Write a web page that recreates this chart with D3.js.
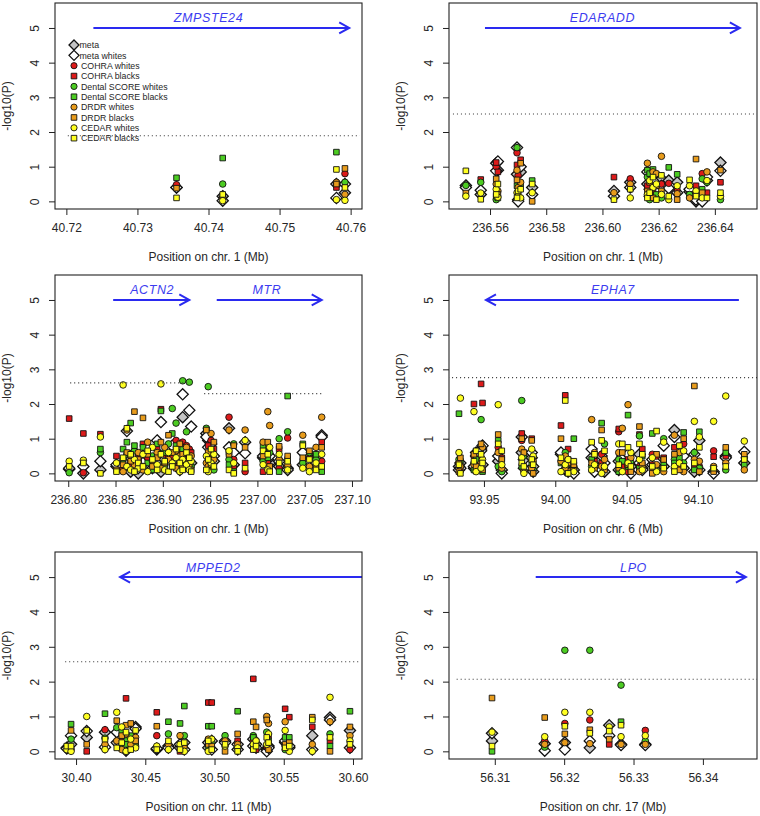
<!DOCTYPE html>
<html><head><meta charset="utf-8">
<script src="https://cdn.jsdelivr.net/npm/d3@7"></script>
<style>body{margin:0;background:#fff;} svg{display:block;font-family:"Liberation Sans",Arial,Helvetica,sans-serif;}</style>
</head><body><svg id="c" width="760" height="816"></svg>
<script>
// ---------- DATA ----------
const seriesNames = ["meta","meta whites","COHRA whites","COHRA blacks","Dental SCORE whites","Dental SCORE blacks","DRDR whites","DRDR blacks","CEDAR whites","CEDAR blacks"];
const yTicks = [0,1,2,3,4,5];
const chromosomes = ["1","1","1","6","11","17"];
const xTicks = [
  [40.72,40.73,40.74,40.75,40.76],
  [236.56,236.58,236.60,236.62,236.64],
  [236.80,236.85,236.90,236.95,237.00,237.05,237.10],
  [93.95,94.00,94.05,94.10],
  [30.40,30.45,30.50,30.55,30.60],
  [56.31,56.32,56.33,56.34]
];
// gene: [name, start, end (arrow head), label position]
const genesZMPSTE24 = [["ZMPSTE24",40.7238,40.7598,40.740]];
const genesEDARADD = [["EDARADD",236.5582,236.6489,236.600]];
const genesACTN2MTR = [["ACTN2",236.8475,236.928,236.8887],["MTR",236.957,237.068,237.0102]];
const genesEPHA7 = [["EPHA7",94.1287,93.9514,94.0404]];
const genesMPPED2 = [["MPPED2",30.63,30.4318,30.499]];
const genesLPO = [["LPO",56.3159,56.3462,56.330]];
// significance thresholds: [from, to, -log10(P)]
const thrZMPSTE24 = [[40.7202,40.7613,1.89]];
const thrEDARADD = [[236.5468,236.655,2.52]];
const thrACTN2MTR = [[236.802,236.929,2.61],[236.9437,237.0694,2.30]];
const thrEPHA7 = [[93.9248,94.1414,2.76]];
const thrMPPED2 = [[30.3921,30.605,2.57]];
const thrLPO = [[56.3045,56.3478,2.07]];
// SNP rows: [position Mb, meta, meta whites, COHRA w, COHRA b, DS w, DS b, DRDR w, DRDR b, CEDAR w, CEDAR b]
const snpsZMPSTE24 = [
[40.7355,0.40,0.40,0.48,null,null,0.68,null,0.38,null,0.10],
[40.7420,0.15,0.02,null,null,0.50,1.25,0.12,null,0.02,0.20],
[40.7580,0.50,0.10,null,0.40,null,1.42,0.55,0.50,0.05,0.92],
[40.7592,0.25,0.50,0.80,null,0.55,null,0.20,0.95,0.03,0.40]
];
const snpsEDARADD = [
[236.5514,0.46,0.40,null,null,0.46,null,null,0.24,0.15,0.88],
[236.5567,0.20,0.32,null,0.63,0.55,null,null,null,0.24,0.06],
[236.5622,1.10,0.88,1.00,1.12,0.05,0.15,0.50,0.65,0.35,0.20],
[236.5628,0.90,1.15,null,0.85,null,0.10,0.30,0.20,0.12,0.50],
[236.5696,0.78,1.55,1.40,1.05,1.55,0.45,0.90,0.62,0.25,0.10],
[236.5700,0.05,0.00,0.75,null,null,null,0.40,0.20,0.15,0.30],
[236.5709,0.85,1.00,null,1.20,null,0.50,0.55,1.10,0.10,0.35],
[236.5750,0.40,0.20,null,null,null,0.60,null,0.00,0.25,0.50],
[236.6041,0.30,0.15,null,0.70,null,null,0.25,null,null,0.05],
[236.6099,0.55,0.40,0.65,null,null,null,0.50,null,0.10,0.35],
[236.6160,0.50,0.85,null,0.45,0.70,0.90,1.10,0.30,0.20,0.10],
[236.6168,0.35,0.15,0.40,null,0.05,0.80,null,0.55,0.60,0.25],
[236.6180,0.75,0.60,null,0.25,null,0.92,0.85,0.10,0.40,0.70],
[236.6192,0.40,0.30,0.45,null,null,0.20,0.80,0.45,0.50,0.05],
[236.6210,0.65,0.45,0.50,null,0.10,null,1.30,0.30,0.20,0.75],
[236.6236,0.60,0.38,0.52,null,null,0.98,null,null,0.05,0.15],
[236.6266,0.55,0.25,null,0.35,null,0.78,0.22,0.05,0.45,null],
[236.6310,0.28,0.35,null,0.20,0.20,null,0.10,null,0.45,0.62],
[236.6333,0.00,0.05,null,0.45,null,null,null,1.22,0.30,0.15],
[236.6355,0.05,0.00,0.80,null,0.65,0.35,null,0.25,0.10,null],
[236.6372,0.60,0.70,null,0.25,0.55,null,0.85,null,0.60,0.10],
[236.6420,1.12,0.88,null,0.55,0.05,null,null,0.90,0.15,0.25]
];
const snpsACTN2MTR = [
[236.801,0.12,0.15,null,1.58,0.02,null,null,null,0.35,0.20],
[236.816,0.00,0.20,0.02,1.15,null,null,null,null,0.38,0.30],
[236.834,0.10,0.35,null,1.13,0.60,0.70,null,null,1.05,0.00],
[236.851,0.20,0.25,null,0.50,null,null,null,0.10,0.30,0.05],
[236.858,0.30,0.20,0.15,null,0.40,0.70,0.05,0.25,2.55,0.45],
[236.862,0.35,1.22,null,null,0.55,0.90,1.25,0.60,0.20,1.30],
[236.866,0.05,0.45,0.30,0.20,null,1.45,0.50,0.35,0.10,0.55],
[236.870,0.40,0.60,null,0.10,0.65,0.80,0.25,1.78,0.40,0.05],
[236.874,0.00,0.15,0.35,0.50,null,0.25,0.60,0.40,0.15,0.30],
[236.879,0.50,0.30,null,0.85,0.20,0.75,0.10,1.60,0.55,0.20],
[236.884,0.25,0.70,0.45,null,null,0.30,0.90,0.55,0.05,0.65],
[236.889,0.15,0.55,null,0.30,0.50,0.10,0.35,0.20,0.75,0.40],
[236.894,0.60,0.95,0.20,0.70,null,0.85,0.60,0.45,0.25,0.10],
[236.898,0.05,1.48,null,1.85,null,1.80,0.15,0.90,2.58,0.55],
[236.902,0.30,0.40,0.55,0.10,0.25,0.60,0.75,0.30,0.10,0.35],
[236.906,0.20,0.65,null,0.50,0.85,null,0.40,1.10,0.60,0.05],
[236.910,0.70,0.80,null,0.45,1.87,1.15,0.25,0.60,0.30,0.20],
[236.914,0.40,0.55,0.95,0.20,1.45,0.80,0.65,0.15,0.45,0.70],
[236.918,0.10,0.75,0.30,0.60,null,0.40,0.50,0.85,0.05,0.30],
[236.921,1.62,2.28,0.90,0.35,2.67,0.70,0.20,0.55,0.40,0.10],
[236.925,0.50,0.60,0.80,0.15,1.20,0.30,0.75,0.40,0.25,0.60],
[236.928,0.35,1.82,0.70,null,2.63,0.50,0.30,0.20,0.10,0.45],
[236.930,0.30,1.35,null,0.60,0.20,null,0.50,0.10,0.35,0.05],
[236.946,1.15,1.05,null,null,1.30,null,0.30,1.25,0.50,0.10],
[236.948,0.95,0.75,0.55,0.80,2.50,0.35,0.20,0.60,0.05,0.40],
[236.951,0.40,0.85,0.95,0.45,null,0.65,1.15,0.25,0.30,0.70],
[236.954,0.35,0.50,null,0.70,0.10,null,0.40,0.90,0.55,0.20],
[236.970,1.30,0.75,1.62,0.60,0.40,0.25,1.25,0.55,0.65,0.10],
[236.975,0.25,0.60,0.40,0.20,0.85,0.05,null,0.80,0.30,0.00],
[236.987,0.90,0.58,0.05,0.30,null,null,1.25,0.75,0.95,0.15],
[237.006,0.45,0.50,null,0.05,0.35,0.80,0.90,0.50,0.25,0.65],
[237.011,0.55,0.40,0.80,0.30,null,0.45,1.78,0.90,0.10,0.55],
[237.013,0.30,0.50,null,null,0.60,null,1.38,0.20,0.75,0.05],
[237.023,0.20,0.35,0.15,0.70,1.00,0.05,0.40,0.78,0.55,0.30],
[237.032,0.15,0.10,1.02,0.40,1.20,2.23,0.25,0.50,0.10,0.35],
[237.048,0.25,0.60,null,0.35,0.30,0.85,1.10,0.45,0.15,0.80],
[237.055,0.50,0.35,0.45,null,0.60,0.15,0.20,0.65,0.05,0.40],
[237.062,0.45,0.30,null,0.50,0.40,0.55,0.75,0.20,0.30,0.10],
[237.068,1.10,1.05,0.35,0.90,null,0.05,1.62,0.75,0.55,0.20]
];
const snpsEPHA7 = [
[93.9325,0.20,0.10,null,null,0.40,1.72,0.30,0.05,0.60,0.25],
[93.9335,0.30,0.15,null,0.10,null,0.35,0.20,0.45,2.17,0.00],
[93.9430,0.15,0.20,0.50,2.00,0.30,0.10,0.25,0.55,1.78,0.35],
[93.9445,0.60,0.50,null,0.25,null,0.40,0.10,0.20,0.05,0.65],
[93.9480,0.70,0.65,0.45,2.58,1.55,0.20,0.30,0.85,0.15,0.55],
[93.9490,0.25,0.80,null,2.03,null,0.05,0.75,0.10,0.40,0.30],
[93.9600,0.35,0.50,0.75,null,0.20,0.95,0.60,1.12,1.98,0.85],
[93.9625,0.10,0.00,null,0.45,0.05,null,0.15,0.40,0.25,0.65],
[93.9765,0.60,1.05,0.95,1.15,2.10,0.20,0.70,1.00,0.45,0.30],
[93.9780,0.40,0.15,null,null,null,0.50,0.05,0.60,0.00,0.20],
[93.9835,0.45,0.60,null,1.00,null,0.30,0.15,0.95,0.70,0.40],
[93.9845,0.05,0.20,null,null,0.10,null,0.35,0.00,0.50,0.25],
[94.0040,0.55,0.60,null,1.38,null,0.30,0.35,1.00,0.05,0.45],
[94.0070,0.35,0.10,0.20,2.25,0.60,null,0.50,0.15,0.25,2.10],
[94.0090,0.10,0.05,null,0.70,null,0.40,0.05,0.30,0.40,0.00],
[94.0130,0.10,0.00,null,null,0.20,1.00,0.10,0.25,0.05,0.35],
[94.0255,0.45,0.70,null,null,0.20,0.40,1.55,0.30,0.10,0.90],
[94.0275,0.25,0.05,null,0.35,null,null,0.60,0.15,0.25,0.55],
[94.0325,0.50,0.10,0.55,0.30,null,1.45,0.20,1.25,0.00,0.95],
[94.0345,0.05,0.30,null,null,0.85,null,0.40,0.10,0.20,0.65],
[94.0445,0.10,0.35,1.20,1.28,0.40,0.05,0.60,0.15,0.85,0.25],
[94.0470,0.30,0.50,null,0.20,null,0.35,1.30,0.60,0.05,0.85],
[94.0510,0.50,0.55,0.05,0.40,0.20,1.68,1.98,0.25,0.30,0.75],
[94.0530,0.20,0.00,null,0.10,null,0.30,0.45,0.05,0.60,0.20],
[94.0590,0.55,0.30,0.20,1.12,1.08,0.15,0.05,1.35,0.40,0.85],
[94.0610,0.15,0.10,null,0.70,null,0.50,0.20,0.30,0.10,0.55],
[94.0680,0.25,0.40,0.55,0.25,null,1.15,0.10,0.00,0.45,0.20],
[94.0710,0.40,0.30,0.50,0.15,0.10,null,0.25,0.55,0.05,1.22],
[94.0760,0.20,0.80,null,0.45,1.00,0.25,0.05,0.40,0.90,0.15],
[94.0835,1.25,1.05,0.15,0.75,0.40,0.30,1.10,0.55,0.20,0.05],
[94.0870,0.35,0.20,null,0.25,null,0.45,0.60,0.10,0.30,0.80],
[94.0900,0.15,0.50,0.85,null,0.30,1.18,0.05,1.00,0.65,0.20],
[94.0975,0.05,0.55,null,0.25,0.60,0.10,0.40,2.52,1.50,0.30],
[94.1010,0.95,0.10,0.20,null,0.15,1.20,0.35,0.05,1.05,0.75],
[94.1110,0.05,0.00,0.65,0.48,null,0.10,0.20,0.05,1.50,0.15],
[94.1195,0.50,0.45,null,0.50,0.10,0.60,0.30,0.75,2.23,0.20],
[94.1325,0.30,0.62,null,null,0.45,0.25,0.10,0.55,0.93,0.40]
];
const snpsMPPED2 = [
[30.3933,0.10,0.08,null,null,null,null,null,null,0.05,0.15],
[30.3964,0.20,0.45,0.05,null,0.35,0.78,null,0.60,0.00,0.15],
[30.4077,0.40,0.58,null,0.00,null,null,null,0.20,1.00,0.60],
[30.4209,0.55,0.12,0.62,null,0.38,1.08,0.20,null,0.05,0.35],
[30.4294,0.25,0.55,null,null,0.68,null,0.30,0.88,1.12,0.10],
[30.4330,0.40,0.20,0.30,null,0.15,0.55,0.05,0.45,0.70,0.25],
[30.4361,0.10,0.02,null,1.52,0.30,0.20,0.50,0.75,0.00,0.55],
[30.4395,0.25,0.15,0.10,null,null,0.45,0.20,0.80,0.35,0.05],
[30.4430,0.70,0.65,null,null,0.15,0.25,0.40,0.30,0.10,0.60],
[30.4583,0.05,0.08,0.45,1.12,null,null,null,0.72,0.15,0.05],
[30.4667,0.15,0.10,null,null,0.50,0.85,0.20,null,0.05,0.30],
[30.4751,0.10,0.20,null,0.00,null,0.80,0.45,0.10,0.20,0.05],
[30.4782,0.25,0.05,null,null,0.45,1.30,null,0.15,0.00,0.25],
[30.4955,0.25,0.10,null,1.40,0.10,0.72,0.35,0.20,0.00,0.30],
[30.4980,0.30,0.05,null,1.40,0.25,0.72,null,0.15,0.35,0.05],
[30.5076,0.30,0.25,null,null,0.45,null,0.30,0.00,0.15,0.20],
[30.5167,0.05,0.20,null,0.30,null,1.15,0.20,0.50,0.10,0.00],
[30.5280,0.35,0.15,0.30,2.08,0.45,0.40,0.10,0.85,0.20,0.05],
[30.5300,0.20,0.10,null,0.05,null,0.25,null,0.70,0.30,0.15],
[30.5377,0.05,0.00,null,0.15,0.55,null,1.00,0.90,0.20,0.40],
[30.5390,0.15,0.10,null,0.45,null,0.30,0.80,0.05,0.50,0.25],
[30.5510,0.25,0.30,0.15,1.22,0.05,0.40,0.85,0.20,0.60,0.10],
[30.5540,0.10,0.15,null,0.98,null,0.40,null,0.25,0.00,0.15],
[30.5706,0.45,0.05,null,0.70,null,null,0.20,0.98,0.00,0.90],
[30.5834,0.97,0.90,null,0.30,0.50,0.15,0.85,0.00,1.55,0.40],
[30.5978,0.60,0.10,0.05,null,null,1.15,0.45,0.70,0.30,0.20]
];
const snpsLPO = [
[56.3096,0.30,0.52,null,null,null,0.00,null,1.53,0.55,0.15],
[56.3172,0.22,0.02,0.30,null,0.12,null,0.20,0.97,0.42,null],
[56.3201,0.25,0.05,0.80,null,2.90,null,0.25,0.50,1.12,0.72],
[56.3237,0.10,0.30,0.90,null,2.90,null,0.22,0.62,1.12,0.52],
[56.3265,0.75,0.45,null,0.20,null,null,null,0.35,0.70,0.58],
[56.3282,0.20,0.18,null,null,1.90,0.85,0.20,null,0.42,0.75],
[56.3317,0.20,0.18,0.60,null,0.30,null,0.20,null,0.45,null]
];

// ---------- STYLE / LAYOUT ----------
const shapes = ["diamond","diamond","circle","square","circle","square","circle","square","circle","square"];
const fills = ["#c4c4c4","#ffffff","#dd1a1a","#dd1a1a","#4ccc22","#4ccc22","#e89c1c","#e89c1c","#ffff22","#ffff22"];
const panels = [
  {x0:55,x1:362,y0:3,y1:209,dom:[40.7184,40.7616],snps:snpsZMPSTE24,genes:genesZMPSTE24,thr:thrZMPSTE24},
  {x0:449,x1:757,y0:3,y1:209,dom:[236.5454,236.655],snps:snpsEDARADD,genes:genesEDARADD,thr:thrEDARADD},
  {x0:55,x1:362,y0:275,y1:481,dom:[236.786,237.1106],snps:snpsACTN2MTR,genes:genesACTN2MTR,thr:thrACTN2MTR},
  {x0:449,x1:757,y0:275,y1:481,dom:[93.9255,94.1414],snps:snpsEPHA7,genes:genesEPHA7,thr:thrEPHA7},
  {x0:55,x1:362,y0:552,y1:759,dom:[30.3848,30.6065],snps:snpsMPPED2,genes:genesMPPED2,thr:thrMPPED2},
  {x0:449,x1:757,y0:552,y1:759,dom:[56.3034,56.3478],snps:snpsLPO,genes:genesLPO,thr:thrLPO}
];
const textCol = "#262626";
const blue = "#2a2af0";

function symPath(shape, s) {
  if (shape === "diamond") return `M0,${-s}L${s},0L0,${s}L${-s},0Z`;
  if (shape === "square") return `M${-s},${-s}H${s}V${s}H${-s}Z`;
  return d3.path ? null : null;
}
function drawSym(g, shape, fill, x, y, big) {
  if (shape === "circle") {
    g.append("circle").attr("cx", x).attr("cy", y).attr("r", big ? 3.3 : 3.1)
      .attr("fill", fill).attr("stroke", "#111").attr("stroke-width", 0.9);
  } else if (shape === "square") {
    const s = 2.8;
    g.append("path").attr("d", symPath("square", s)).attr("transform", `translate(${x},${y})`)
      .attr("fill", fill).attr("stroke", "#111").attr("stroke-width", 0.9);
  } else {
    const s = big ? 5.6 : 5;
    g.append("path").attr("d", symPath("diamond", s)).attr("transform", `translate(${x},${y})`)
      .attr("fill", fill).attr("stroke", "#111").attr("stroke-width", 1.3);
  }
}

const svg = d3.select("#c");
svg.append("rect").attr("width", 760).attr("height", 816).attr("fill", "#fff");

panels.forEach((p, pi) => {
  const x = d3.scaleLinear().domain(p.dom).range([p.x0, p.x1]);
  const y = d3.scaleLinear().domain([-0.22, 5.72]).range([p.y1, p.y0]);
  const g = svg.append("g");
  const clipId = "clip" + pi;
  svg.append("clipPath").attr("id", clipId).append("rect")
    .attr("x", p.x0).attr("y", p.y0).attr("width", p.x1 - p.x0).attr("height", p.y1 - p.y0);
  const inner = g.append("g").attr("clip-path", `url(#${clipId})`);

  // points: diamonds first, then study markers
  for (let s = 0; s < 10; s++) {
    p.snps.forEach(r => {
      const v = r[s + 1];
      if (v === null || v === undefined) return;
      drawSym(inner, shapes[s], fills[s], x(r[0]), y(v), true);
    });
  }

  // legend (first panel only)
  if (pi === 0) {
    const lg = g.append("g");
    seriesNames.forEach((nm, i) => {
      const ly = 45 + i * 10.35;
      drawSym(lg, shapes[i], fills[i], 74, ly, false);
      lg.append("text").attr("x", shapes[i] === "diamond" ? 79.5 : 81).attr("y", ly + 3.2)
        .attr("font-size", 8.8).attr("fill", textCol).text(nm);
    });
  }

  // thresholds
  p.thr.forEach(t => {
    inner.append("line").attr("x1", x(t[0])).attr("x2", x(t[1])).attr("y1", y(t[2])).attr("y2", y(t[2]))
      .attr("stroke", "#444").attr("stroke-width", 1.1).attr("stroke-dasharray", "1.1,2.9");
  });

  // genes
  p.genes.forEach(gn => {
    const xa = x(gn[1]), xb = x(gn[2]), yy = y(5);
    inner.append("line").attr("x1", xa).attr("x2", xb).attr("y1", yy).attr("y2", yy)
      .attr("stroke", blue).attr("stroke-width", 2);
    const dir = xb > xa ? 1 : -1;
    const L = 10, H = 5.5;
    inner.append("path").attr("d", `M${xb - dir * L},${yy - H}L${xb},${yy}L${xb - dir * L},${yy + H}`)
      .attr("fill", "none").attr("stroke", blue).attr("stroke-width", 2).attr("stroke-linejoin", "miter");
    g.append("text").attr("x", x(gn[3])).attr("y", yy - 5.5).attr("text-anchor", "middle")
      .attr("font-size", 12.5).attr("font-style", "italic").attr("fill", "#3c3cf0")
      .attr("letter-spacing", 0.6).text(gn[0]);
  });

  // box
  g.append("rect").attr("x", p.x0).attr("y", p.y0).attr("width", p.x1 - p.x0).attr("height", p.y1 - p.y0)
    .attr("fill", "none").attr("stroke", "#222").attr("stroke-width", 1.1);

  // x axis
  const xa = g.append("g").attr("transform", `translate(0,${p.y1})`)
    .call(d3.axisBottom(x).tickValues(xTicks[pi]).tickFormat(d3.format(".2f")).tickSize(6).tickPadding(8));
  xa.select(".domain").remove();
  xa.selectAll("line").attr("stroke", "#222");
  xa.selectAll("text").attr("font-size", 12).attr("fill", textCol).attr("font-family", "Liberation Sans, Arial, sans-serif");

  // y axis
  const ya = g.append("g").attr("transform", `translate(${p.x0},0)`)
    .call(d3.axisLeft(y).tickValues(yTicks).tickFormat(d3.format("d")).tickSize(6).tickPadding(0));
  ya.select(".domain").remove();
  ya.selectAll("line").attr("stroke", "#222");
  ya.selectAll("text").attr("font-size", 12).attr("fill", textCol).attr("font-family", "Liberation Sans, Arial, sans-serif")
    .attr("text-anchor", "middle").attr("dy", 0).attr("x", 0)
    .attr("transform", `translate(${35 - p.x0 + (p.x0 - 55) * 0},0)`)
    .each(function() {
      const t = d3.select(this);
      t.attr("transform", `translate(${(p.x0 - 20) - p.x0},0) rotate(-90)`).attr("dy", "0.35em");
    });

  // axis titles
  g.append("text").attr("x", (p.x0 + p.x1) / 2).attr("y", p.y1 + 52).attr("text-anchor", "middle")
    .attr("font-size", 12).attr("fill", textCol).text(`Position on chr. ${chromosomes[pi]} (Mb)`);
  g.append("text").attr("transform", `translate(${p.x0 - 44},${(p.y0 + p.y1) / 2}) rotate(-90)`)
    .attr("text-anchor", "middle").attr("font-size", 12).attr("fill", textCol).text("-log10(P)");
});
</script></body></html>
